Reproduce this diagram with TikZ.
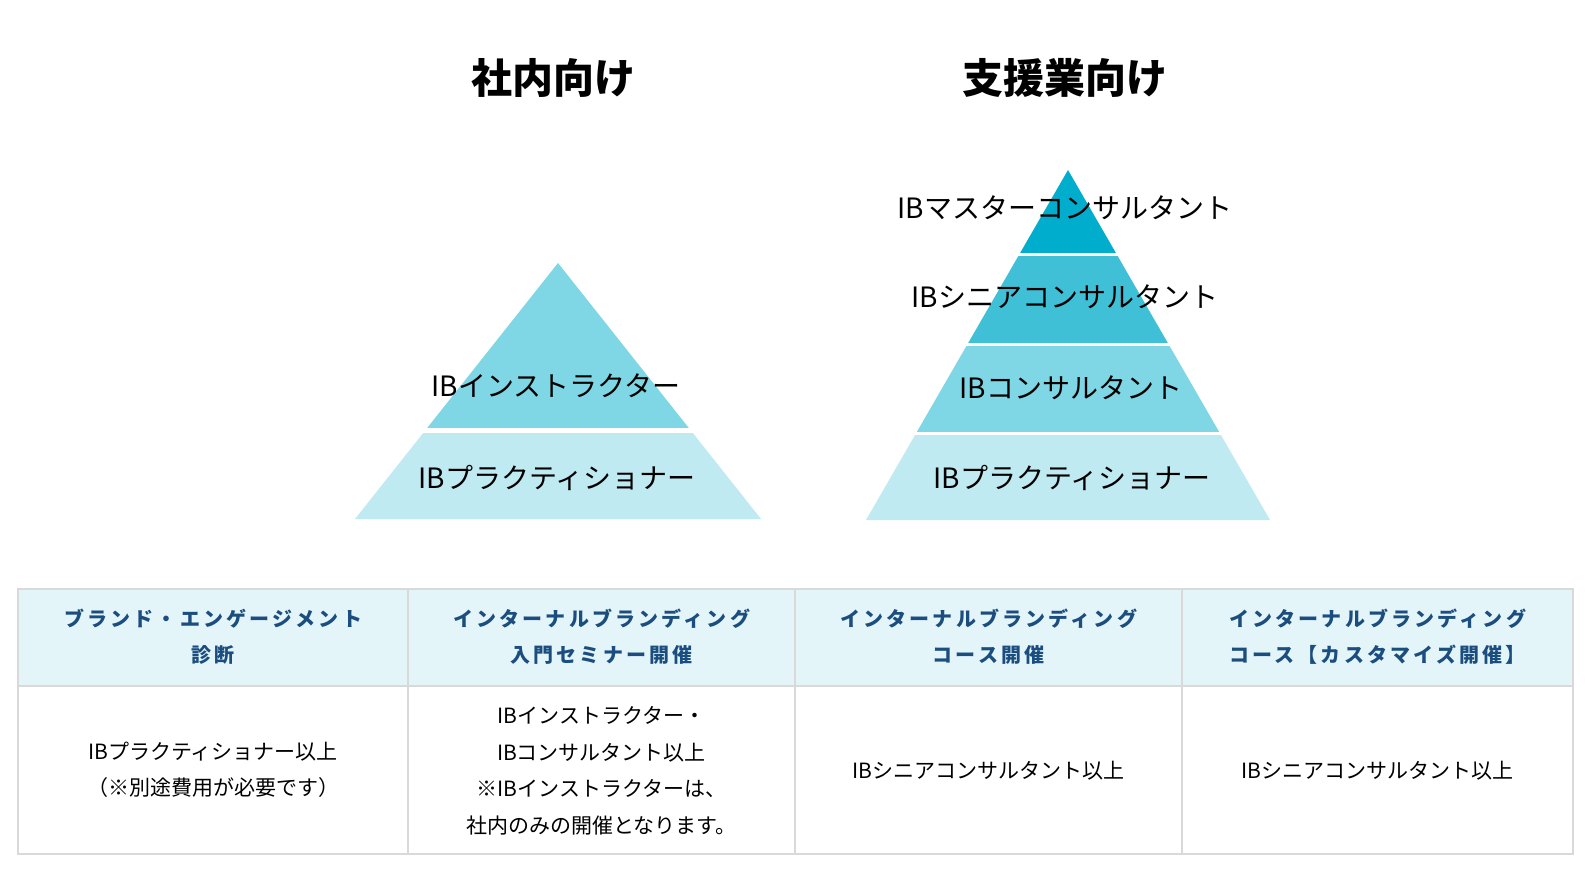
\documentclass[tikz,border=0pt]{standalone}
\usepackage{fontspec}
\setmainfont{Noto Sans CJK JP}
\definecolor{tierA}{HTML}{00ADCC}
\definecolor{tierB}{HTML}{40C0D7}
\definecolor{tierC}{HTML}{7FD7E6}
\definecolor{tierD}{HTML}{BFEAF1}
\definecolor{hdrfill}{HTML}{E3F5F9}
\definecolor{gridline}{HTML}{D9D9D9}
\definecolor{hdrtext}{HTML}{1B4E7E}
\tikzset{
  titletext/.style={inner sep=0pt, font=\fontsize{41}{49}\selectfont\bfseries},
  tiertext/.style={inner sep=0pt, font=\fontsize{28}{34}\selectfont},
  headtext/.style={inner sep=0pt, align=center, text=hdrtext,
    font=\fontsize{20}{36}\selectfont\bfseries\addfontfeature{LetterSpace=16}},
  bodytext/.style={inner sep=0pt, align=center,
    font=\fontsize{21}{36.5}\selectfont},
  gridstyle/.style={draw=gridline, line width=2pt}
}
\begin{document}
\begin{tikzpicture}[x=1pt,y=-1pt]
\useasboundingbox (0,0) rectangle (1592,876);
\fill[white] (0,0) rectangle (1592,876);

% titles
\node[titletext] (t1) at (553,78) {社内向け};
\node[titletext] (t2) at (1065,78) {支援業向け};

% left pyramid
\begin{scope}
  \clip (558,263) -- (761,519) -- (355,519) -- cycle;
  \fill[tierC] (300,250) rectangle (800,428);
  \fill[tierD] (300,433) rectangle (800,530);
\end{scope}
\node[tiertext] (l1) at (556,386) {IBインストラクター};
\node[tiertext] (l2) at (557,478) {IBプラクティショナー};

% right pyramid
\begin{scope}
  \clip (1068,170) -- (1270,520) -- (866,520) -- cycle;
  \fill[tierA] (800,160) rectangle (1300,253);
  \fill[tierB] (800,256) rectangle (1300,343);
  \fill[tierC] (800,346) rectangle (1300,432);
  \fill[tierD] (800,435) rectangle (1300,530);
\end{scope}
\node[tiertext] (r1) at (1065,208) {IBマスターコンサルタント};
\node[tiertext] (r2) at (1065,297) {IBシニアコンサルタント};
\node[tiertext] (r3) at (1071,388) {IBコンサルタント};
\node[tiertext] (r4) at (1072,478) {IBプラクティショナー};

% table
\fill[hdrfill] (18,589) rectangle (1573,686);
\draw[gridstyle] (18,589) rectangle (1573,854);
\draw[gridstyle] (18,686) -- (1573,686);
\draw[gridstyle] (408,589) -- (408,854);
\draw[gridstyle] (795,589) -- (795,854);
\draw[gridstyle] (1182,589) -- (1182,854);

\node[headtext] (h1) at (213,637) {ブランド・エンゲージメント\\診断};
\node[headtext] (h2) at (601.5,637) {インターナルブランディング\\入門セミナー開催};
\node[headtext] (h3) at (988.5,637) {インターナルブランディング\\コース開催};
\node[headtext] (h4) at (1377.5,637) {インターナルブランディング\\コース【カスタマイズ開催】};

\node[bodytext] (b1) at (213,770) {IBプラクティショナー以上\\（※別途費用が必要です）};
\node[bodytext] (b2) at (601.5,771) {IBインストラクター・\\IBコンサルタント以上\\※IBインストラクターは、\\社内のみの開催となります。};
\node[bodytext] (b3) at (988.5,771) {IBシニアコンサルタント以上};
\node[bodytext] (b4) at (1377.5,771) {IBシニアコンサルタント以上};
\end{tikzpicture}
\end{document}
